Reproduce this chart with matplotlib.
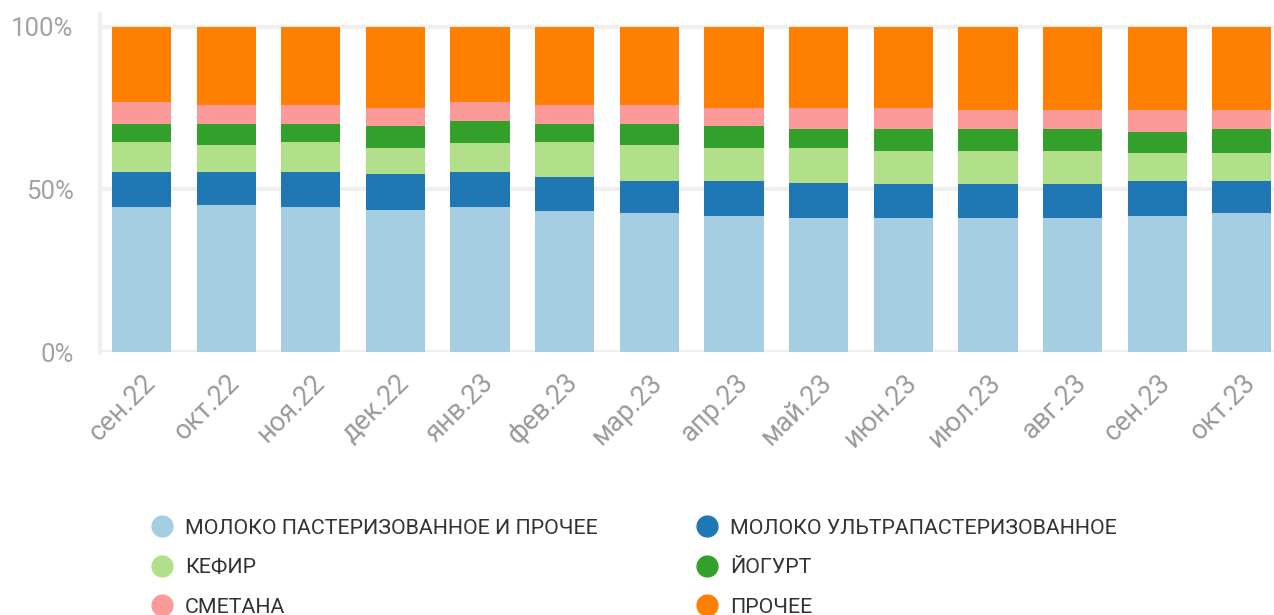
import numpy as np
import matplotlib
matplotlib.use("Agg")
import matplotlib.pyplot as plt
from matplotlib.lines import Line2D

plt.rcParams['font.family'] = ['Roboto', 'DejaVu Sans']

# months
months = ["сен.22", "окт.22", "ноя.22", "дек.22", "янв.23", "фев.23", "мар.23",
          "апр.23", "май.23", "июн.23", "июл.23", "авг.23", "сен.23", "окт.23"]

# shares in %
milk_past = [44.7, 45.3, 44.7, 43.8, 44.7, 43.5, 42.8, 41.9, 41.3, 41.3, 41.3, 41.3, 41.9, 42.8]
milk_uht = [10.5, 9.9, 10.5, 10.8, 10.5, 10.2, 9.9, 10.8, 10.8, 10.5, 10.5, 10.5, 10.8, 9.9]
kefir = [9.3, 8.3, 9.3, 8.0, 9.0, 10.8, 10.8, 9.9, 10.5, 9.9, 9.9, 9.9, 8.4, 8.4]
yogurt = [5.5, 6.5, 5.5, 6.8, 6.8, 5.5, 6.5, 6.8, 5.9, 6.8, 6.8, 6.8, 6.5, 7.4]
smetana = [6.8, 5.9, 5.9, 5.6, 5.8, 5.9, 5.9, 5.6, 6.5, 6.5, 5.9, 5.9, 6.8, 5.9]
other = [23.2, 24.1, 24.1, 25.0, 23.2, 24.1, 24.1, 25.0, 25.0, 25.0, 25.6, 25.6, 25.6, 25.6]

series = [milk_past, milk_uht, kefir, yogurt, smetana, other]
labels = ["МОЛОКО ПАСТЕРИЗОВАННОЕ И ПРОЧЕЕ", "МОЛОКО УЛЬТРАПАСТЕРИЗОВАННОЕ",
          "КЕФИР", "ЙОГУРТ", "СМЕТАНА", "ПРОЧЕЕ"]
colors = ["#a6cee3", "#1f78b4", "#b2df8a", "#33a02c", "#fb9a99", "#ff7f00"]

fig = plt.figure(figsize=(12.74, 6.15), dpi=100)
ax = fig.add_axes([0.0785, 0.4276, 0.9215, 0.550])

x = np.arange(len(months))
bottom = np.zeros(len(months))
for vals, col in zip(series, colors):
    vals = np.array(vals)
    ax.bar(x, vals, 0.70, bottom=bottom, color=col, zorder=2)
    bottom += vals

ax.set_xlim(-0.49, 13.38)
ax.set_ylim(0, 104)
ax.set_yticks([0, 50, 100])
ax.set_yticklabels(["0%", "50%", "100%"])
ax.yaxis.grid(True, color="#efefef", linewidth=3, zorder=0)
ax.set_axisbelow(True)

ax.set_xticks(x)
ax.set_xticklabels(months, rotation=45, ha="right", rotation_mode="anchor")
ax.tick_params(axis="x", length=0, pad=12, labelsize=19.5, labelcolor="#9a9a9a")
ax.tick_params(axis="y", length=0, pad=19, labelsize=18.5, labelcolor="#a3a3a3")

for s in ["top", "right", "bottom"]:
    ax.spines[s].set_visible(False)
ax.spines["left"].set_color("#efefef")
ax.spines["left"].set_linewidth(3)

# legend with round markers, column order gives row-wise reading
order = [0, 2, 4, 1, 3, 5]
handles = [Line2D([], [], linestyle="none", marker="o", markersize=15,
                  markerfacecolor=colors[i], markeredgecolor=colors[i]) for i in order]
fig.legend(handles, [labels[i] for i in order], ncol=2, frameon=False,
           loc="upper left", bbox_to_anchor=(0.1117, 0.1707), fontsize=15.4,
           labelcolor="#333333", handletextpad=0.6, columnspacing=4.6,
           labelspacing=0.96, handlelength=1.0, borderaxespad=0, borderpad=0.4)

fig.savefig("out.png", dpi=100)
